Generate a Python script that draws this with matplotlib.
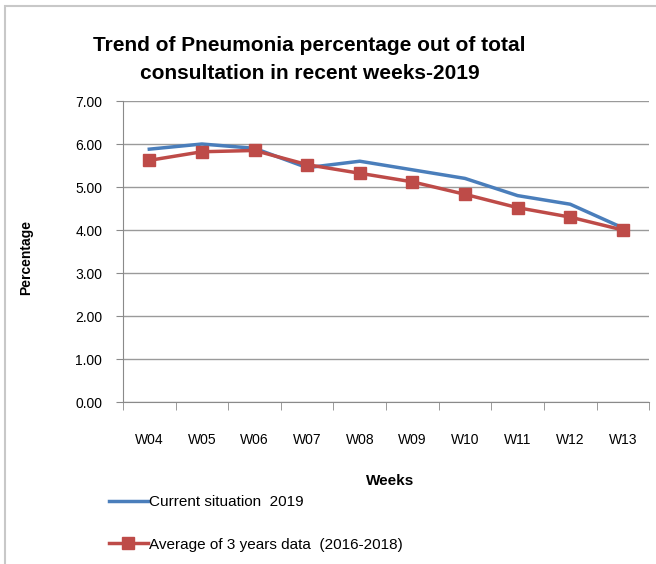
import matplotlib.pyplot as plt
import numpy as np

weeks = ["W04", "W05", "W06", "W07", "W08", "W09", "W10", "W11", "W12", "W13"]
current_2019 = [5.88, 6.00, 5.90, 5.45, 5.60, 5.40, 5.20, 4.80, 4.60, 4.05]
avg_3yrs = [5.62, 5.82, 5.85, 5.52, 5.32, 5.12, 4.83, 4.52, 4.30, 4.00]
yticks = [0, 1, 2, 3, 4, 5, 6, 7]

plt.rcParams['font.family'] = ['Liberation Sans', 'DejaVu Sans']

fig = plt.figure(figsize=(6.56, 5.64), dpi=100)
# marco gris alrededor del grafico
fig.patches.append(plt.Rectangle((0.008, -0.01), 1.0, 1.0, transform=fig.transFigure,
                                 fill=False, edgecolor='#c8c8c8', linewidth=1.5))

ax = fig.add_axes([0.1875, 0.2872, 0.802, 0.5337])
x = np.arange(len(weeks))

ax.plot(x, current_2019, color='#4a7ebb', linewidth=2.5, label='Current situation  2019')
ax.plot(x, avg_3yrs, color='#be4b48', linewidth=2.5, marker='s', markersize=9,
        label='Average of 3 years data  (2016-2018)')

ax.set_xlim(-0.5, len(weeks) - 0.5)
ax.set_ylim(0, 7)
ax.set_yticks(yticks)
ax.set_yticklabels([f"{v:.2f}" for v in yticks], fontsize=10)
ax.yaxis.grid(True, color='#9a9a9a', linewidth=1)
ax.set_axisbelow(True)

ax.set_xticks(x)
ax.set_xticklabels(weeks, fontsize=10)
ax.tick_params(axis='x', length=0, pad=22)
ax.set_xticks(np.arange(-0.5, len(weeks)), minor=True)
ax.tick_params(axis='x', which='minor', length=6, color='#8a8a8a')
ax.tick_params(axis='y', length=5, color='#8a8a8a', pad=10)

for s in ['top', 'right']:
    ax.spines[s].set_visible(False)
for s in ['left', 'bottom']:
    ax.spines[s].set_color('#8a8a8a')

fig.text(0.472, 0.894, "Trend of Pneumonia percentage out of total\nconsultation in recent weeks-2019",
         ha='center', va='center', fontsize=15, fontweight='bold', linespacing=1.6)
fig.text(0.04, 0.543, "Percentage", rotation=90, ha='center', va='center',
         fontsize=10, fontweight='bold')
fig.text(0.595, 0.148, "Weeks", ha='center', va='center', fontsize=11, fontweight='bold')

fig.legend(loc='upper left', bbox_to_anchor=(0.155, 0.135), frameon=False,
           fontsize=11, labelspacing=1.85, handlelength=2.5, handletextpad=0.1,
           borderpad=0)

fig.savefig("out.png", dpi=100)
